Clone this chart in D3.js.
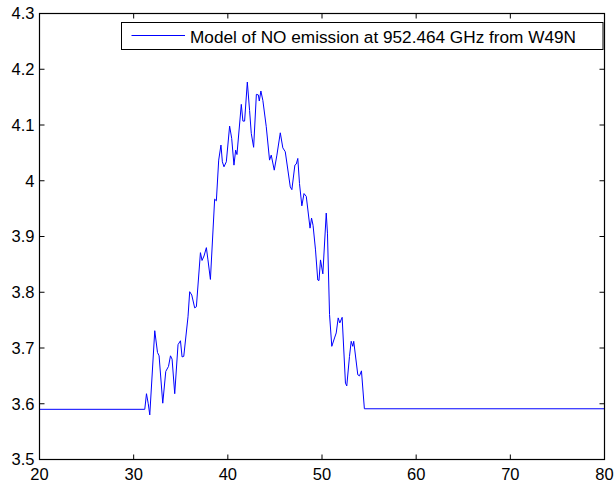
<!DOCTYPE html>
<html><head><meta charset="utf-8">
<script src="https://cdn.jsdelivr.net/npm/d3@7"></script>
<style>body{margin:0;background:#fff}svg{display:block}text{font-family:"Liberation Sans",Arial,sans-serif}</style>
</head><body><svg id="c" width="614" height="483"></svg>
<script>
const xVals = [20,31.18,31.36,31.55,31.71,32.24,32.53,32.70,33.09,33.41,33.70,33.91,34.08,34.36,34.71,34.97,35.14,35.32,35.77,35.95,36.17,36.48,36.66,37.09,37.26,37.47,37.72,37.89,38.15,38.60,38.78,39.03,39.27,39.42,39.59,39.84,40.19,40.41,40.65,40.83,40.97,41.43,41.60,41.78,42.07,42.31,42.49,42.74,43.03,43.24,43.34,43.51,43.72,44.08,44.43,44.61,44.93,45.21,45.57,45.84,46.10,46.63,46.80,47.12,47.27,47.43,47.61,47.86,48.09,48.33,48.73,48.89,49.05,49.31,49.55,49.68,49.84,50.09,50.45,50.58,50.80,51.04,51.33,51.51,51.72,51.89,52.14,52.49,52.63,52.92,53.10,53.27,53.37,53.80,53.98,54.19,54.50,80];
const yVals = [3.59,3.59,3.618,3.60,3.58,3.731,3.692,3.686,3.601,3.658,3.667,3.686,3.680,3.618,3.706,3.713,3.684,3.685,3.756,3.801,3.795,3.772,3.774,3.871,3.857,3.865,3.880,3.858,3.823,3.967,3.964,4.037,4.064,4.034,4.025,4.034,4.098,4.076,4.028,4.055,4.047,4.137,4.107,4.107,4.177,4.126,4.085,4.060,4.155,4.154,4.143,4.161,4.144,4.097,4.037,4.046,4.019,4.046,4.086,4.059,4.052,3.989,3.984,4.028,4.030,4.040,3.995,3.955,3.977,3.972,3.915,3.933,3.920,3.876,3.822,3.821,3.858,3.833,3.942,3.906,3.760,3.703,3.718,3.727,3.754,3.745,3.755,3.637,3.632,3.685,3.712,3.703,3.712,3.652,3.650,3.659,3.591,3.591];
const xTicks = [20,30,40,50,60,70,80];
const yTicks = [3.5,3.6,3.7,3.8,3.9,4.0,4.1,4.2,4.3];
const legendLabel = "Model of NO emission at 952.464 GHz from W49N";

const svg = d3.select("#c");
const L=39.5, R=604.5, T=13.5, B=459.5;
const x = d3.scaleLinear().domain([20,80]).range([L,R]);
const y = d3.scaleLinear().domain([3.5,4.3]).range([B,T]);
const fmt = d => d===4 ? "4" : d3.format(".1f")(d);

const tk = 5;
const g = svg.append("g");
xTicks.forEach(t=>{
  g.append("line").attr("x1",x(t)).attr("x2",x(t)).attr("y1",B).attr("y2",B-tk).attr("stroke","#000");
  g.append("line").attr("x1",x(t)).attr("x2",x(t)).attr("y1",T).attr("y2",T+tk).attr("stroke","#000");
  g.append("text").attr("x",x(t)).attr("y",B+20).attr("text-anchor","middle").attr("font-size",16.5).text(t);
});
yTicks.forEach(t=>{
  g.append("line").attr("x1",L).attr("x2",L+tk).attr("y1",y(t)).attr("y2",y(t)).attr("stroke","#000");
  g.append("line").attr("x1",R).attr("x2",R-tk).attr("y1",y(t)).attr("y2",y(t)).attr("stroke","#000");
  g.append("text").attr("x",L-5).attr("y",y(t)+5.8).attr("text-anchor","end").attr("font-size",16.5).text(fmt(t));
});

const data = xVals.map((v,i)=>[v,yVals[i]]);
svg.append("path").datum(data)
  .attr("d", d3.line().x(d=>x(d[0])).y(d=>y(d[1])))
  .attr("fill","none").attr("stroke","#0000ff").attr("stroke-width",1);

svg.append("rect").attr("x",L).attr("y",T).attr("width",R-L).attr("height",B-T)
  .attr("fill","none").attr("stroke","#000").attr("stroke-width",1.2);

const lg = svg.append("g");
lg.append("rect").attr("x",121.5).attr("y",22.5).attr("width",481.5).attr("height",27)
  .attr("fill","#fff").attr("stroke","#000").attr("stroke-width",1);
lg.append("line").attr("x1",131.5).attr("x2",185).attr("y1",35.5).attr("y2",35.5).attr("stroke","#0000ff").attr("stroke-width",1);
lg.append("text").attr("x",190).attr("y",43).attr("font-size",17.2).text(legendLabel);
</script></body></html>
